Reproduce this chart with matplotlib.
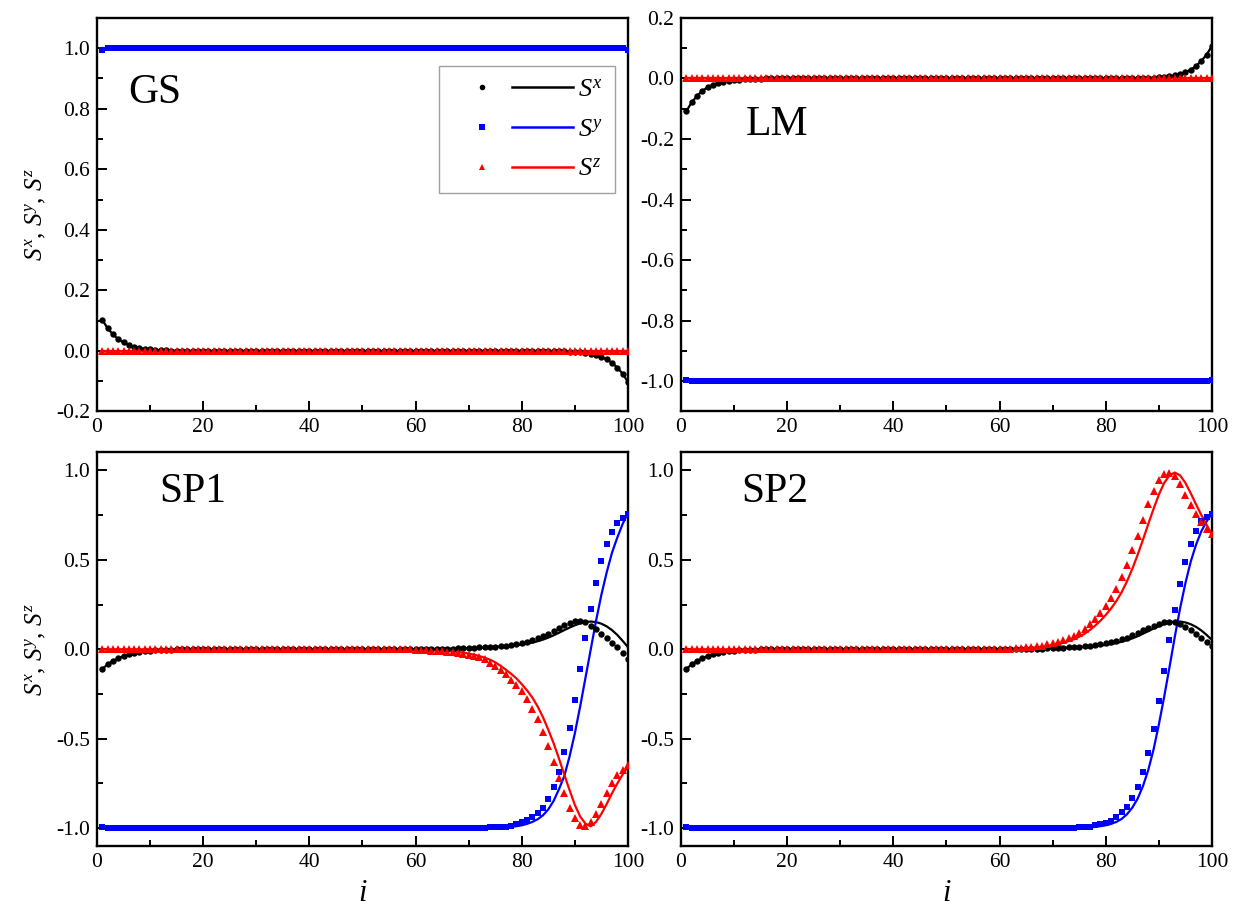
import numpy as np
import matplotlib
matplotlib.use('Agg')
import matplotlib.pyplot as plt
from matplotlib.ticker import MultipleLocator, FormatStrFormatter
from matplotlib.legend_handler import HandlerTuple
from matplotlib.lines import Line2D

plt.rcParams['font.family'] = ['Liberation Serif', 'DejaVu Serif']
plt.rcParams['mathtext.fontset'] = 'custom'
plt.rcParams['mathtext.rm'] = 'Liberation Serif'
plt.rcParams['mathtext.it'] = 'Liberation Serif:italic'
plt.rcParams['axes.unicode_minus'] = False

N = 100
sitios = np.arange(1, N + 1)


def serie(cabeza, valor, cola):
    # cabeza + tramo constante + cola, siempre N puntos
    relleno = N - len(cabeza) - len(cola)
    return np.array(cabeza + [valor] * relleno + cola)


# ---- GS ----
gs_sx_cabeza = [0.103, 0.075, 0.055, 0.039, 0.028, 0.020, 0.014, 0.010,
                0.007, 0.005, 0.0035, 0.0025, 0.0017, 0.0012, 0.0008]
gs_sx_cola = [-0.0008, -0.0012, -0.0017, -0.0025, -0.0035, -0.005, -0.007,
              -0.010, -0.014, -0.020, -0.028, -0.039, -0.055, -0.075, -0.103]
gs_sy_borde = [0.995]
gs_sz = [0.0]

# ---- LM ----
lm_sx_cabeza = [-0.108, -0.079, -0.058, -0.041, -0.029, -0.021, -0.015, -0.010,
                -0.007, -0.005, -0.0035, -0.0025, -0.0017, -0.0012, -0.0008]
lm_sx_cola = [0.0008, 0.0012, 0.0017, 0.0025, 0.0035, 0.005, 0.007,
              0.010, 0.015, 0.021, 0.029, 0.041, 0.058, 0.079, 0.108]
lm_sy_borde = [-0.995]
lm_sz = [0.0]

# ---- SP1 / SP2: arranque comun de S^x (i = 1..15)
sp_sx_cabeza = [-0.110, -0.085, -0.065, -0.050, -0.038, -0.028, -0.021, -0.015,
                -0.011, -0.008, -0.006, -0.004, -0.003, -0.002, -0.001]

# SP1, i = 60..100
sp1_sx_pts_cola = [0.001, 0.001, 0.002, 0.002, 0.003, 0.003, 0.004, 0.004, 0.005,
                   0.006, 0.007, 0.008, 0.010, 0.011, 0.013, 0.015, 0.018, 0.021,
                   0.025, 0.030, 0.036, 0.043, 0.051, 0.061, 0.073, 0.087, 0.103,
                   0.119, 0.134, 0.147, 0.156, 0.158, 0.150, 0.132, 0.111, 0.088,
                   0.062, 0.037, 0.010, -0.022, -0.055]
sp1_sx_lin_cola = [0.001, 0.001, 0.001, 0.002, 0.002, 0.003, 0.003, 0.004, 0.004,
                   0.005, 0.006, 0.007, 0.008, 0.010, 0.011, 0.013, 0.015, 0.018,
                   0.021, 0.023, 0.026, 0.031, 0.037, 0.045, 0.054, 0.065, 0.078,
                   0.092, 0.107, 0.121, 0.134, 0.145, 0.152, 0.155, 0.152, 0.143,
                   0.128, 0.107, 0.080, 0.047, 0.012]
sp1_sz_pts_cola = [-0.003, -0.004, -0.006, -0.008, -0.010, -0.012, -0.015, -0.018,
                   -0.022, -0.026, -0.031, -0.037, -0.045, -0.056, -0.074, -0.095,
                   -0.117, -0.140, -0.169, -0.201, -0.236, -0.277, -0.333, -0.389,
                   -0.462, -0.542, -0.629, -0.719, -0.804, -0.886, -0.944, -0.983,
                   -0.987, -0.968, -0.920, -0.866, -0.806, -0.750, -0.704, -0.676,
                   -0.648]
sp1_sz_lin_cola = [-0.001, -0.002, -0.003, -0.004, -0.006, -0.007, -0.010, -0.012,
                   -0.015, -0.019, -0.024, -0.030, -0.038, -0.047, -0.058, -0.073,
                   -0.092, -0.114, -0.137, -0.163, -0.195, -0.230, -0.270, -0.320,
                   -0.380, -0.450, -0.525, -0.610, -0.700, -0.787, -0.870, -0.935,
                   -0.975, -0.990, -0.965, -0.920, -0.865, -0.805, -0.750, -0.700,
                   -0.655]
# S^y, i = 71..100
sp1_sy_pts_cola = [-0.999, -0.998, -0.997, -0.996, -0.995, -0.993, -0.991, -0.986,
                   -0.978, -0.965, -0.955, -0.940, -0.914, -0.885, -0.838, -0.769,
                   -0.685, -0.574, -0.438, -0.281, -0.112, 0.063, 0.225, 0.371,
                   0.493, 0.587, 0.655, 0.706, 0.734, 0.756]
sp1_sy_lin_cola = [-1.000, -1.000, -0.999, -0.999, -0.998, -0.998, -0.996, -0.993,
                   -0.989, -0.984, -0.976, -0.965, -0.950, -0.928, -0.895, -0.848,
                   -0.783, -0.710, -0.600, -0.470, -0.320, -0.160, 0.000, 0.160,
                   0.305, 0.430, 0.540, 0.625, 0.700, 0.765]

# SP2, i = 60..100
sp2_sx_pts_cola = [0.000, 0.000, 0.001, 0.001, 0.001, 0.002, 0.002, 0.003, 0.004,
                   0.005, 0.006, 0.007, 0.008, 0.010, 0.012, 0.014, 0.017, 0.020,
                   0.024, 0.028, 0.033, 0.039, 0.046, 0.055, 0.065, 0.077, 0.090,
                   0.105, 0.119, 0.132, 0.143, 0.151, 0.154, 0.150, 0.140, 0.125,
                   0.107, 0.087, 0.065, 0.042, 0.018]
sp2_sx_lin_cola = [0.001, 0.001, 0.001, 0.002, 0.002, 0.003, 0.003, 0.004, 0.004,
                   0.005, 0.006, 0.007, 0.008, 0.009, 0.010, 0.012, 0.014, 0.016,
                   0.018, 0.021, 0.024, 0.029, 0.035, 0.042, 0.051, 0.061, 0.073,
                   0.087, 0.101, 0.116, 0.129, 0.141, 0.150, 0.155, 0.155, 0.150,
                   0.140, 0.125, 0.105, 0.080, 0.052]
sp2_sz_pts_cola = [0.002, 0.003, 0.004, 0.006, 0.008, 0.010, 0.013, 0.017, 0.021,
                   0.027, 0.033, 0.041, 0.050, 0.061, 0.075, 0.093, 0.115, 0.143,
                   0.169, 0.203, 0.240, 0.285, 0.339, 0.402, 0.471, 0.553, 0.633,
                   0.724, 0.810, 0.885, 0.948, 0.981, 0.988, 0.966, 0.922, 0.862,
                   0.804, 0.754, 0.711, 0.675, 0.645]
sp2_sz_lin_cola = [0.001, 0.002, 0.003, 0.004, 0.005, 0.007, 0.009, 0.011, 0.014,
                   0.018, 0.023, 0.029, 0.036, 0.045, 0.056, 0.070, 0.087, 0.108,
                   0.132, 0.160, 0.192, 0.228, 0.270, 0.320, 0.380, 0.450, 0.528,
                   0.612, 0.700, 0.785, 0.865, 0.930, 0.972, 0.988, 0.972, 0.930,
                   0.872, 0.810, 0.750, 0.695, 0.640]
# S^y, i = 71..100
sp2_sy_pts_cola = [-0.999, -0.998, -0.998, -0.997, -0.996, -0.994, -0.991, -0.985,
                   -0.978, -0.970, -0.959, -0.937, -0.909, -0.883, -0.834, -0.771,
                   -0.687, -0.579, -0.445, -0.289, -0.121, 0.050, 0.218, 0.367,
                   0.486, 0.587, 0.659, 0.717, 0.739, 0.758]
sp2_sy_lin_cola = [-1.000, -1.000, -0.999, -0.999, -0.998, -0.998, -0.996, -0.993,
                   -0.989, -0.984, -0.976, -0.965, -0.948, -0.922, -0.885, -0.835,
                   -0.765, -0.675, -0.560, -0.420, -0.265, -0.100, 0.070, 0.230,
                   0.370, 0.490, 0.585, 0.660, 0.715, 0.760]

# Series completas (puntos y linea)
gs = dict(
    sx_pts=serie(gs_sx_cabeza, 0.0, gs_sx_cola),
    sx_lin=serie(gs_sx_cabeza, 0.0, gs_sx_cola),
    sy_pts=serie(gs_sy_borde, 1.0, gs_sy_borde),
    sy_lin=serie([], 1.0, []),
    sz_pts=serie(gs_sz, 0.0, []),
    sz_lin=serie(gs_sz, 0.0, []),
)
lm = dict(
    sx_pts=serie(lm_sx_cabeza, 0.0, lm_sx_cola),
    sx_lin=serie(lm_sx_cabeza, 0.0, lm_sx_cola),
    sy_pts=serie(lm_sy_borde, -1.0, lm_sy_borde),
    sy_lin=serie([], -1.0, []),
    sz_pts=serie(lm_sz, 0.0, []),
    sz_lin=serie(lm_sz, 0.0, []),
)
sp1 = dict(
    sx_pts=serie(sp_sx_cabeza, 0.0, sp1_sx_pts_cola),
    sx_lin=serie(sp_sx_cabeza, 0.0, sp1_sx_lin_cola),
    sy_pts=serie([-0.995], -1.0, sp1_sy_pts_cola),
    sy_lin=serie([], -1.0, sp1_sy_lin_cola),
    sz_pts=serie([], 0.0, sp1_sz_pts_cola),
    sz_lin=serie([], 0.0, sp1_sz_lin_cola),
)
sp2 = dict(
    sx_pts=serie(sp_sx_cabeza, 0.0, sp2_sx_pts_cola),
    sx_lin=serie(sp_sx_cabeza, 0.0, sp2_sx_lin_cola),
    sy_pts=serie([-0.995], -1.0, sp2_sy_pts_cola),
    sy_lin=serie([], -1.0, sp2_sy_lin_cola),
    sz_pts=serie([], 0.0, sp2_sz_pts_cola),
    sz_lin=serie([], 0.0, sp2_sz_lin_cola),
)

# Config de la figura
fig = plt.figure(figsize=(12.4, 9.11), dpi=100)
ancho, alto = 0.4282, 0.432
posiciones = [[0.0782, 0.5483, ancho, alto], [0.5492, 0.5483, ancho, alto],
              [0.0782, 0.0713, ancho, alto], [0.5492, 0.0713, ancho, alto]]
paneles = [gs, lm, sp1, sp2]
nombres = ['GS', 'LM', 'SP1', 'SP2']
pos_nombre = [(0.058, 0.784), (0.122, 0.703), (0.118, 0.873), (0.114, 0.873)]
limites_y = [(-0.2, 1.1), (-1.1, 0.2), (-1.1, 1.1), (-1.1, 1.1)]
paso_y = [(0.2, 0.1), (0.2, 0.1), (0.5, 0.25), (0.5, 0.25)]

axes = []
for k in range(4):
    ax = fig.add_axes(posiciones[k])
    d = paneles[k]

    ax.plot(sitios, d['sx_lin'], color='black', lw=1.6, zorder=2)
    ax.plot(sitios, d['sy_lin'], color='#0000ff', lw=1.6, zorder=2)
    ax.plot(sitios, d['sz_lin'], color='#ff0000', lw=1.6, zorder=2)
    ax.plot(sitios, d['sx_pts'], 'o', color='black', ms=4.6, mew=0, zorder=3)
    ax.plot(sitios, d['sy_pts'], 's', color='#0000ff', ms=4.2, mew=0, zorder=3)
    ax.plot(sitios, d['sz_pts'], '^', color='#ff0000', ms=5.4, mew=0, zorder=3)

    ax.set_xlim(0, 100)
    ax.set_ylim(*limites_y[k])
    ax.xaxis.set_major_locator(MultipleLocator(20))
    ax.xaxis.set_minor_locator(MultipleLocator(10))
    ax.yaxis.set_major_locator(MultipleLocator(paso_y[k][0]))
    ax.yaxis.set_minor_locator(MultipleLocator(paso_y[k][1]))
    ax.yaxis.set_major_formatter(FormatStrFormatter('%.1f'))

    ax.tick_params(which='both', direction='in', top=False, right=False,
                   width=1.4, labelsize=15.5, pad=5)
    ax.tick_params(which='major', length=7)
    ax.tick_params(which='minor', length=4)
    for lado in ax.spines.values():
        lado.set_linewidth(1.7)

    ax.text(pos_nombre[k][0], pos_nombre[k][1], nombres[k], fontsize=30,
            transform=ax.transAxes, va='baseline', ha='left')

    if k in (0, 2):
        ax.set_ylabel(r'$S^x$, $S^y$, $S^z$', fontsize=18)
        ax.yaxis.set_label_coords(-0.092, 0.5)
    if k in (2, 3):
        ax.set_xlabel(r'$i$', fontsize=22, labelpad=5)
    axes.append(ax)

# Leyenda: simbolo + linea + etiqueta
colores = ['black', '#0000ff', '#ff0000']
marcas = [('o', 4.0), ('s', 4.0), ('^', 5.0)]
etiquetas = [r'$S^x$', r'$S^y$', r'$S^z$']
manejadores = []
for c, (m, s) in zip(colores, marcas):
    punto = Line2D([], [], ls='none', marker=m, ms=s, mew=0, color=c)
    linea = Line2D([], [], color=c, lw=1.8)
    manejadores.append((punto, linea))

leg = axes[0].legend(manejadores, etiquetas,
                     handler_map={tuple: HandlerTuple(ndivide=None, pad=0.0)},
                     loc='upper right', bbox_to_anchor=(0.9755, 0.878),
                     borderaxespad=0, fontsize=19, handlelength=4.6,
                     handletextpad=0.2, labelspacing=0.62, borderpad=0.45,
                     fancybox=False, framealpha=1)
leg.get_frame().set_edgecolor('#a0a0a0')
leg.get_frame().set_linewidth(1.0)

fig.savefig('out.png', dpi=100)
